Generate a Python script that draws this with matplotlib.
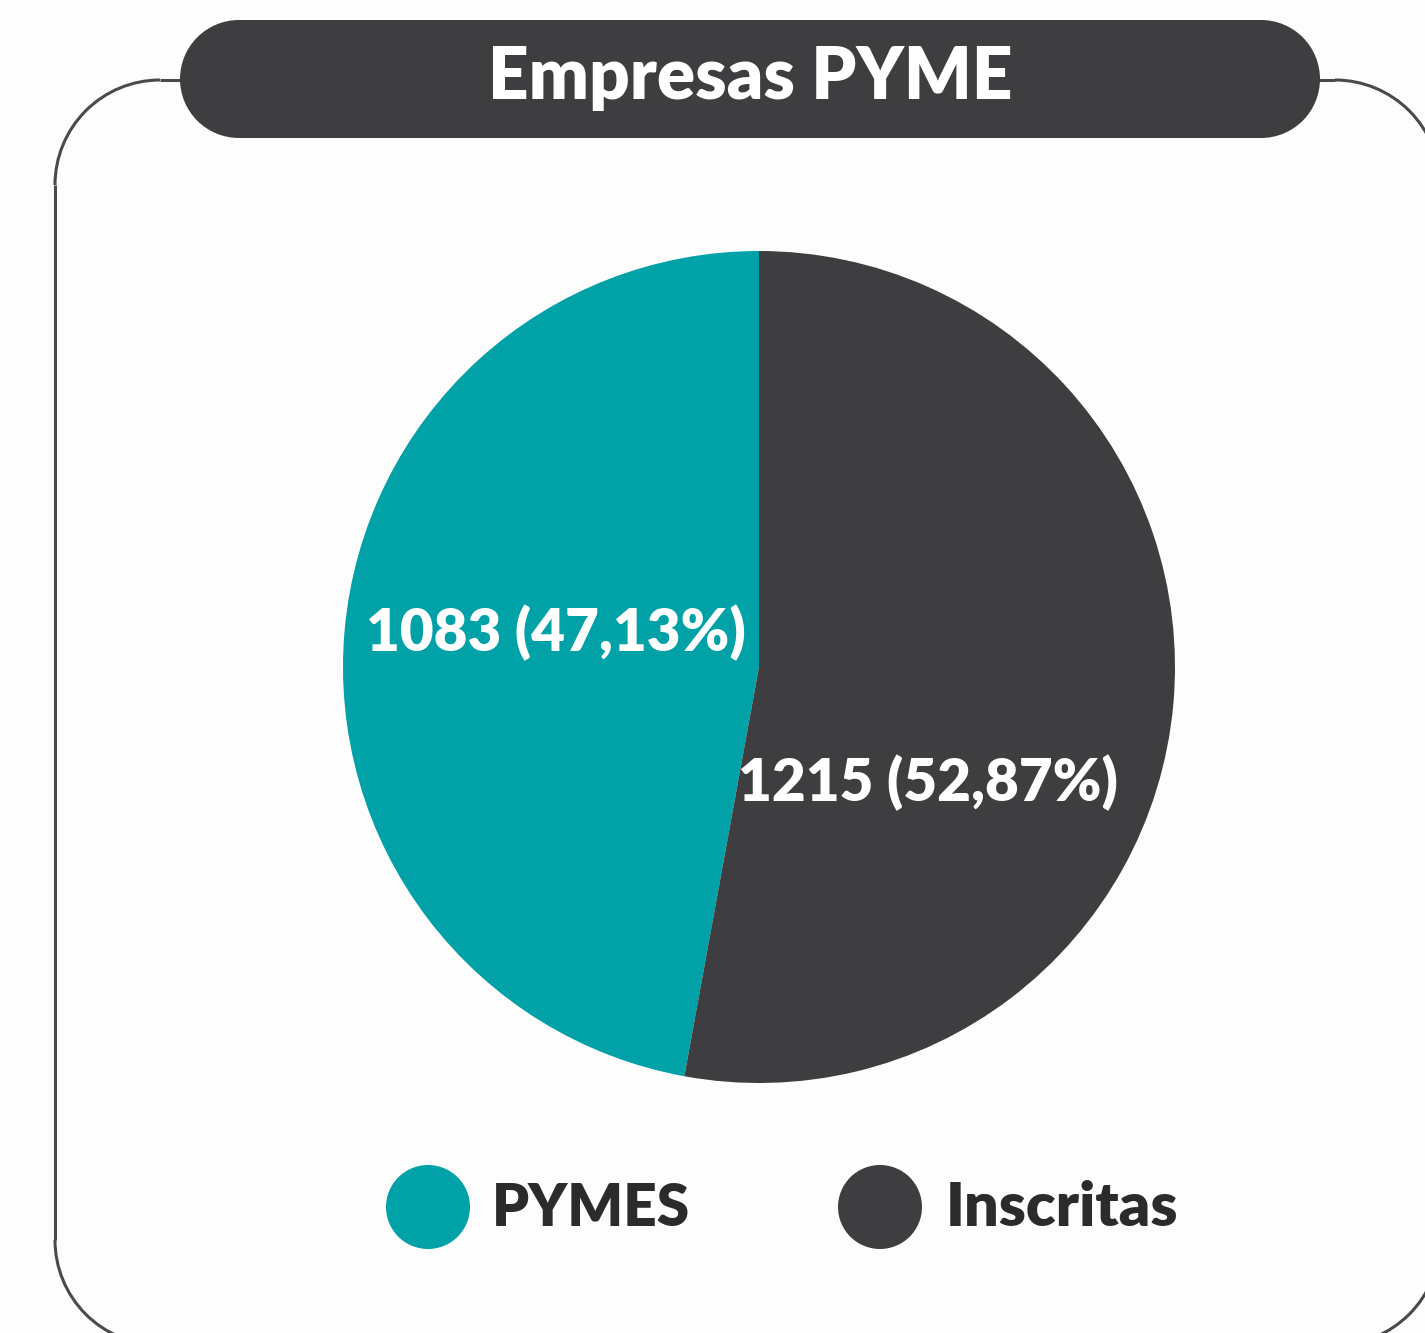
import matplotlib
matplotlib.use("Agg")
import matplotlib.pyplot as plt
from matplotlib.patches import Rectangle, Circle, Arc

title = "Empresas PYME"
categories = ["PYMES", "Inscritas"]
values = [1083, 1215]
pct_labels = ["47,13%", "52,87%"]
colors = ["#00A1A7", "#3E3E41"]

W, H = 1425, 1333
fig = plt.figure(figsize=(W / 100, H / 100), dpi=100)
fig.patch.set_facecolor("#FDFDFD")
ax = fig.add_axes([0, 0, 1, 1])

def Y(y):
    return H - y

# outer rounded frame (extends beyond the right and bottom edges)
L, T, R, B, r = 55, 80, 1440, 1345, 105
edge = "#4A4A4C"
lw = 2.2
ax.plot([L + r, R - r], [Y(T), Y(T)], color=edge, lw=lw, zorder=1, solid_capstyle="butt")
ax.plot([L, L], [Y(T + r), Y(B - r)], color=edge, lw=lw, zorder=1, solid_capstyle="butt")
ax.plot([R, R], [Y(T + r), Y(B - r)], color=edge, lw=lw, zorder=1, solid_capstyle="butt")
ax.plot([L + r, R - r], [Y(B), Y(B)], color=edge, lw=lw, zorder=1, solid_capstyle="butt")
ax.add_patch(Arc((L + r, Y(T + r)), 2 * r, 2 * r, theta1=90, theta2=180, color=edge, lw=lw, zorder=1))
ax.add_patch(Arc((R - r, Y(T + r)), 2 * r, 2 * r, theta1=0, theta2=90, color=edge, lw=lw, zorder=1))
ax.add_patch(Arc((L + r, Y(B - r)), 2 * r, 2 * r, theta1=180, theta2=270, color=edge, lw=lw, zorder=1))
ax.add_patch(Arc((R - r, Y(B - r)), 2 * r, 2 * r, theta1=270, theta2=360, color=edge, lw=lw, zorder=1))

# title pill (stadium)
pl, pr, pt, pb = 180, 1320, 20, 138
ph = pb - pt
pill_c = "#3E3E41"
ax.add_patch(Rectangle((pl + ph / 2, Y(pb)), (pr - pl) - ph, ph, facecolor=pill_c,
                       edgecolor="none", zorder=3))
ax.add_patch(Circle((pl + ph / 2, Y((pt + pb) / 2)), ph / 2, facecolor=pill_c, edgecolor="none", zorder=3))
ax.add_patch(Circle((pr - ph / 2, Y((pt + pb) / 2)), ph / 2, facecolor=pill_c, edgecolor="none", zorder=3))

font = "Lato"
ax.text(750, Y(78), title, color="white", fontsize=51, fontweight="heavy",
        family=font, ha="center", va="center", zorder=4)

# pie
wedges, _ = ax.pie(values, colors=colors, startangle=90, counterclock=True,
                   center=(759, Y(667)), radius=416,
                   wedgeprops=dict(linewidth=0), frame=True)
for w in wedges:
    w.set_zorder(2)

ax.text(556, Y(633), f"{values[0]} ({pct_labels[0]})", color="white",
        fontsize=42, fontweight="heavy", family=font, ha="center", va="center", zorder=4)
ax.text(928, Y(783), f"{values[1]} ({pct_labels[1]})", color="white",
        fontsize=42, fontweight="heavy", family=font, ha="center", va="center", zorder=4)

# legend
leg_x = [428, 880]
text_x = [492, 946]
sizes = [42, 44]
for cx, tx, c, lab, fs in zip(leg_x, text_x, colors, categories, sizes):
    ax.add_patch(Circle((cx, Y(1207)), 42, facecolor=c, edgecolor="none", zorder=3))
    ax.text(tx, Y(1208), lab, color="#2B2B2D", fontsize=fs, fontweight="heavy",
            family=font, ha="left", va="center", zorder=4)

ax.set_xlim(0, W)
ax.set_ylim(0, H)
ax.set_aspect("equal")
ax.axis("off")
fig.savefig("out.png", dpi=100, facecolor=fig.get_facecolor())
